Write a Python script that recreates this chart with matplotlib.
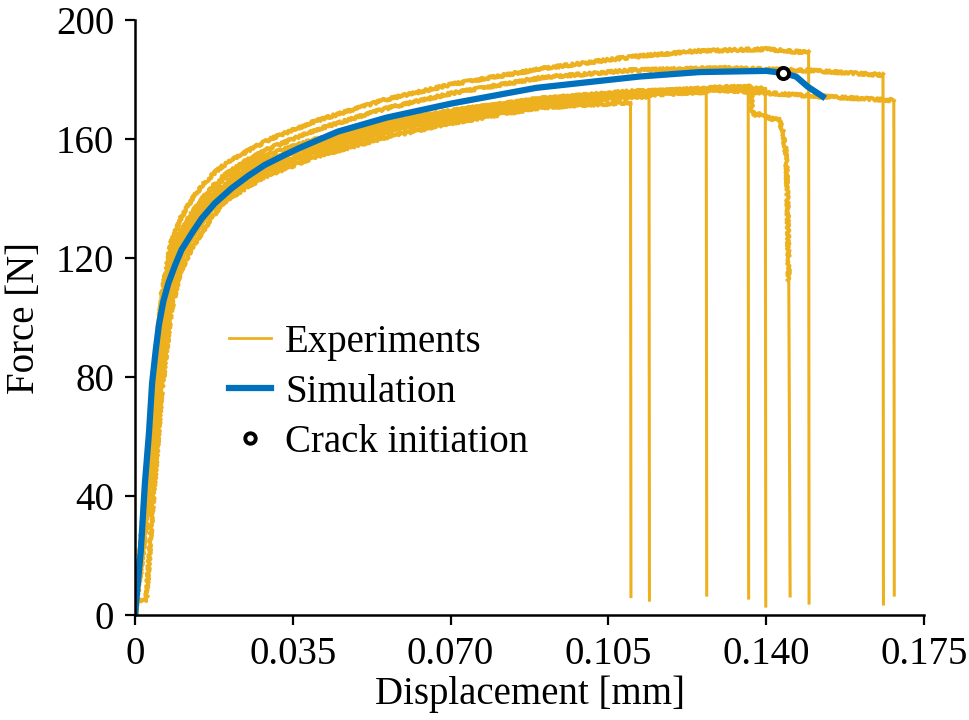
import matplotlib

matplotlib.use("Agg")
import matplotlib.pyplot as plt
from matplotlib.lines import Line2D

plt.rcParams["font.family"] = ["Liberation Serif", "DejaVu Serif"]

ORANGE = "#EDB120"
BLUE = "#0072BD"

# --- simulation (displacement in mm, force in N) -----------------------------
sim_d = [0, 0.0013, 0.0022, 0.0031, 0.0038, 0.0046, 0.0053, 0.0063, 0.0074,
         0.0089, 0.0103, 0.0126, 0.0148, 0.0177, 0.0214, 0.0251, 0.0288,
         0.0337, 0.0365, 0.045, 0.0558, 0.0704, 0.089, 0.1119, 0.1252,
         0.140, 0.1438, 0.1466, 0.1492, 0.1531]
sim_f = [0, 21.8, 44.3, 61.2, 78, 89, 97.5, 105.5, 111.5,
         117.6, 122.7, 128.3, 133.3, 138.4, 143.4, 147.6, 151.3,
         155.0, 157, 162.5, 167.2, 172, 177.2, 181, 182.5,
         182.9, 182.2, 181, 177.6, 173.7]
crack_d = [0.1438]
crack_f = [182.2]

# --- experiments: one (d, F) list per specimen --------------------------------
grid = [0, 0.002, 0.004, 0.006, 0.008, 0.010, 0.0125, 0.015, 0.0175, 0.020,
        0.025, 0.030, 0.040, 0.055, 0.070, 0.090, 0.110]

exp_a_d = grid + [0.125, 0.140, 0.1494, 0.1495]
exp_a_f = [0, 36, 76, 108, 125, 133, 139.5, 144.5, 148.5, 151.5,
           156, 160, 166, 173, 178.3, 183.6, 187.6, 189.6, 190.2, 189, 4]

exp_b_d = grid + [0.130, 0.150, 0.1659, 0.1660]
exp_b_f = [0, 36, 72, 100, 117, 126.5, 134, 140, 144.5, 148,
           153, 157, 163, 170, 175.3, 180.6, 183.1, 183.9, 183, 181.5, 3.7]

exp_c_d = grid + [0.130, 0.150, 0.1683, 0.1684]
exp_c_f = [0, 30, 62, 92, 112, 122, 129.5, 135, 139.5, 143,
           148.5, 152.5, 158.5, 165, 169.3, 173.6, 175.6, 176.4, 174.5, 173, 6.7]

exp_d_d = [0, 0.0005, 0.0025, 0.004, 0.006, 0.008, 0.010, 0.0125, 0.015,
           0.0175, 0.020, 0.025, 0.030, 0.040, 0.055, 0.070, 0.090,
           0.1099, 0.1100]
exp_d_f = [1, 5, 5, 38, 76, 102, 115, 123, 129,
           134.5, 139, 144, 148, 154, 160.3, 165.3, 170.6,
           172.3, 6.2]

exp_e_d = grid + [0.1140, 0.1141]
exp_e_f = [0, 32, 66, 97, 116, 125.5, 132.5, 138, 142, 145,
           150, 153.5, 157.5, 163.5, 168, 172, 174.1, 174.3, 5.0]

exp_f_d = grid + [0.1267, 0.1268]
exp_f_f = [0, 26, 55, 86, 109, 120, 127, 132.5, 137, 140.5,
           145.5, 149.5, 155.5, 162, 166.8, 171.6, 174.6, 175.8, 6.7]

exp_g_d = grid + [0.130, 0.1360, 0.1361]
exp_g_f = [0, 34, 70, 102, 120, 128.5, 135, 140, 144, 147,
           151.5, 155, 160, 165.5, 169.5, 173.6, 176, 176.8, 177, 5.7]

exp_h_d = grid + [0.130, 0.1367, 0.1368, 0.1377, 0.1392, 0.1407, 0.1429,
                  0.1436, 0.1442, 0.1445, 0.1447, 0.1450, 0.1453]
exp_h_f = [0, 24, 50, 82, 106, 119, 126.5, 132.5, 137, 141,
           146.5, 150.5, 156.5, 163.5, 168, 173.1, 175.6, 177.4, 177.6,
           169.2, 168, 168.5, 167, 166.4, 163, 157.4, 151.8, 140.6, 112.6, 6.4]

exp_i_d = grid + [0.130, 0.1398, 0.1399]
exp_i_f = [0, 30, 60, 90, 112, 123.5, 130.5, 136, 140.5, 144,
           149, 153, 158, 164, 168.5, 173, 175.3, 176.6, 177, 3.0]

experiments = [
    (exp_a_d, exp_a_f), (exp_b_d, exp_b_f), (exp_c_d, exp_c_f),
    (exp_d_d, exp_d_f), (exp_e_d, exp_e_f), (exp_f_d, exp_f_f),
    (exp_g_d, exp_g_f), (exp_h_d, exp_h_f), (exp_i_d, exp_i_f),
]

x_ticks = [0, 0.035, 0.070, 0.105, 0.140, 0.175]
x_tick_labels = ["0", "0.035", "0.070", "0.105", "0.140", "0.175"]
y_ticks = [0, 40, 80, 120, 160, 200]

FS = 28

fig = plt.figure(figsize=(9.69, 7.2), dpi=100)
ax = fig.add_axes([0.1393, 0.1458, 0.8143, 0.8264])

for d, f in experiments:
    # measured part gets a little noise texture, the final fracture drop is clean
    body, = ax.plot(d[:-1], f[:-1], color=ORANGE, lw=2.8, solid_joinstyle="round")
    body.set_sketch_params(scale=1.4, length=2.5, randomness=3)
    ax.plot(d[-2:], f[-2:], color=ORANGE, lw=2.2)

ax.plot(sim_d, sim_f, color=BLUE, lw=4.5, solid_capstyle="butt",
        solid_joinstyle="round")
ax.plot(crack_d, crack_f, "o", ms=8, mfc="white", mec="black", mew=2.8)

ax.set_xlim(0, 0.175)
ax.set_ylim(0, 200)
ax.set_xticks(x_ticks)
ax.set_xticklabels(x_tick_labels)
ax.set_yticks(y_ticks)
ax.tick_params(direction="out", length=7, width=1.6, labelsize=FS, pad=8)
for side in ("top", "right"):
    ax.spines[side].set_visible(False)
for side in ("left", "bottom"):
    ax.spines[side].set_linewidth(1.8)

ax.set_xlabel("Displacement [mm]", fontsize=FS, labelpad=2)
ax.set_ylabel("Force [N]", fontsize=FS, labelpad=9)

handles = [
    Line2D([], [], color=ORANGE, lw=2),
    Line2D([], [], color=BLUE, lw=4.5),
    Line2D([], [], ls="none", marker="o", ms=7.5, mfc="white", mec="black", mew=2.8),
]
ax.legend(handles, ["Experiments", "Simulation", "Crack initiation"],
          loc="upper left", bbox_to_anchor=(229 / 969, 1 - 324 / 720),
          bbox_transform=fig.transFigure, frameon=False, fontsize=FS,
          borderpad=0, borderaxespad=0, handlelength=1.08, handletextpad=0.36,
          labelspacing=0.33)

fig.savefig("out.png", dpi=100)
